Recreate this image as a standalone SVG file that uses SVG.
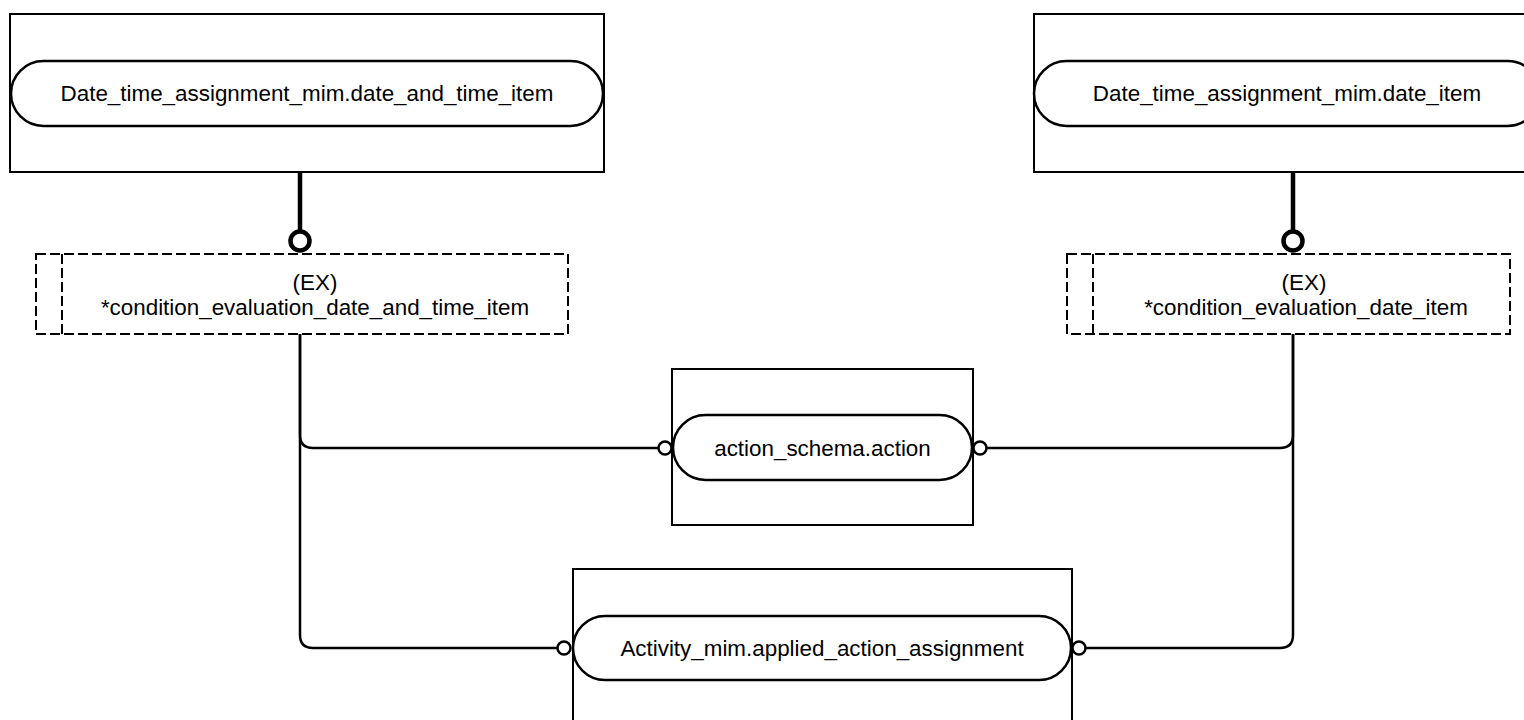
<svg xmlns="http://www.w3.org/2000/svg" width="1524" height="720" viewBox="0 0 1524 720">
<style>
.box{fill:#fff;stroke:#000;stroke-width:2}
.pill{fill:#fff;stroke:#000;stroke-width:2.5}
.dash{fill:none;stroke:#000;stroke-width:2;stroke-dasharray:10 4}
.lbl{font-family:"Liberation Sans",Arial,Helvetica,sans-serif;font-size:22.4px;fill:#000;text-anchor:middle}
.conn{fill:none;stroke:#000;stroke-width:2.5}
.thick{fill:none;stroke:#000;stroke-width:4.5}
.oc{fill:#fff;stroke:#000;stroke-width:2.5}
.ob{fill:#fff;stroke:#000;stroke-width:4.5}
</style>
<rect width="1524" height="720" fill="#fff"/>
<g id="connectors">
<path class="conn" d="M300,334 V435 Q300,448 313,448 H658"/>
<path class="conn" d="M300,334 V635 Q300,648 313,648 H557"/>
<path class="conn" d="M1293,334 V435 Q1293,448 1280,448 H987"/>
<path class="conn" d="M1293,334 V635 Q1293,648 1280,648 H1086"/>
<line class="thick" x1="300" y1="172" x2="300" y2="231"/>
<circle class="ob" cx="300" cy="241" r="9.5"/>
<line class="thick" x1="1293" y1="172" x2="1293" y2="231"/>
<circle class="ob" cx="1293" cy="241" r="9.5"/>
</g>
<g id="node-date-and-time-item">
<rect class="box" x="10" y="14" width="594" height="158"/>
<rect class="pill" x="11" y="61" width="592" height="65" rx="32.5"/>
<text class="lbl" x="307" y="101">Date_time_assignment_mim.date_and_time_item</text>
</g>
<g id="node-date-item">
<rect class="box" x="1034" y="14" width="506" height="158"/>
<rect class="pill" x="1034" y="61" width="506" height="65" rx="32.5"/>
<text class="lbl" x="1287" y="101">Date_time_assignment_mim.date_item</text>
</g>
<g id="node-cond-date-and-time">
<rect class="dash" x="36" y="254" width="532" height="80"/>
<line class="dash" x1="62" y1="254" x2="62" y2="334"/>
<text class="lbl" x="315" y="290">(EX)</text>
<text class="lbl" x="315" y="315">*condition_evaluation_date_and_time_item</text>
</g>
<g id="node-cond-date">
<rect class="dash" x="1067" y="254" width="443" height="80"/>
<line class="dash" x1="1093" y1="254" x2="1093" y2="334"/>
<text class="lbl" x="1304" y="290">(EX)</text>
<text class="lbl" x="1306" y="315">*condition_evaluation_date_item</text>
</g>
<g id="node-action">
<rect class="box" x="672" y="369" width="301" height="156"/>
<rect class="pill" x="673" y="415" width="299" height="65" rx="32.5"/>
<text class="lbl" x="822.5" y="456">action_schema.action</text>
</g>
<g id="node-applied-action-assignment">
<rect class="box" x="573" y="569" width="499" height="200"/>
<rect class="pill" x="573" y="616" width="498" height="64" rx="32"/>
<text class="lbl" x="822" y="656">Activity_mim.applied_action_assignment</text>
</g>
<g id="end-circles">
<circle class="oc" cx="665" cy="448" r="6.5"/>
<circle class="oc" cx="980" cy="448" r="6.5"/>
<circle class="oc" cx="564" cy="648" r="6.5"/>
<circle class="oc" cx="1079" cy="648" r="6.5"/>
</g>
</svg>
